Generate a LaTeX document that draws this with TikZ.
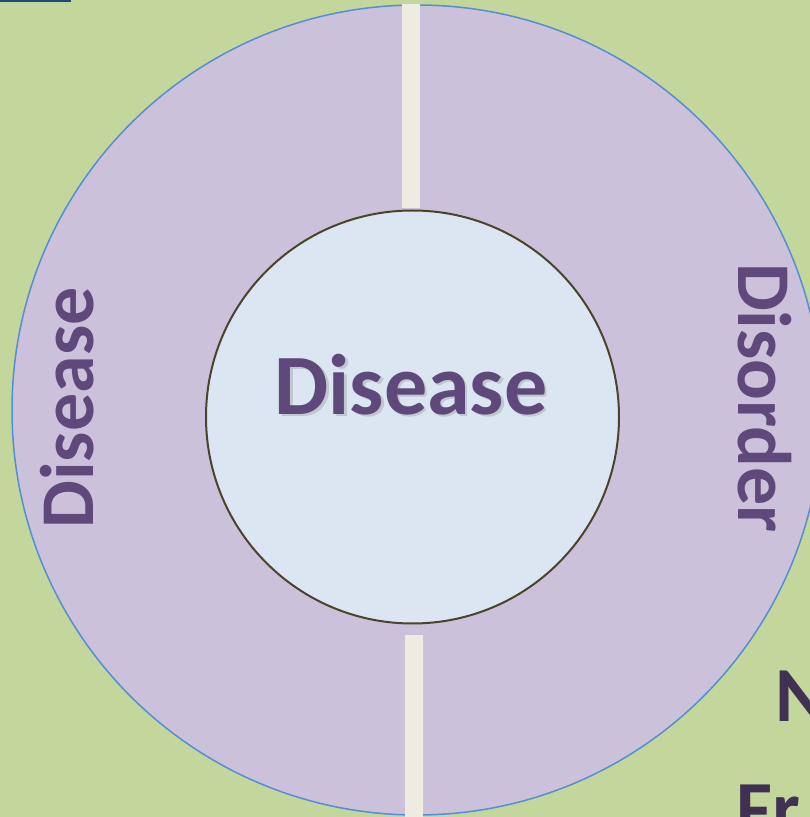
\documentclass[tikz,border=0pt]{standalone}
\usepackage{fontspec}
\setmainfont{Carlito}
\usetikzlibrary{positioning}
\definecolor{bggreen}{HTML}{C3D69B}
\definecolor{ringlilac}{HTML}{CCC1DA}
\definecolor{ringblue}{HTML}{558ED5}
\definecolor{hubblue}{HTML}{DCE6F2}
\definecolor{hubedge}{HTML}{4A452A}
\definecolor{barcream}{HTML}{EEECE1}
\definecolor{wordplum}{HTML}{5F497A}
\definecolor{darkplum}{HTML}{403152}
\definecolor{tabnavy}{HTML}{1F497D}

\begin{document}
\begin{tikzpicture}[x=1pt, y=1pt,
  ring/.style={circle, draw=ringblue, fill=ringlilac, line width=1.5pt, minimum size=810pt, inner sep=0pt},
  hub/.style={circle, draw=hubedge, fill=hubblue, line width=2pt, minimum size=413pt, inner sep=0pt},
  spoke/.style={draw=barcream, line width=18pt},
  word/.style={text=wordplum, font=\bfseries\fontsize{76}{80}\selectfont, inner sep=0pt},
  bigword/.style={word, font=\bfseries\fontsize{86}{90}\selectfont},
  cutword/.style={text=darkplum, font=\bfseries\fontsize{78}{80}\selectfont, inner sep=0pt, anchor=base west}
]

\useasboundingbox (0,0) rectangle (810,817);
\clip (0,0) rectangle (810,817);
\fill[bggreen] (0,0) rectangle (810,817);
\fill[tabnavy] (0,815) rectangle (71,817);

\node[ring] (ring) at (417,407) {};
\node[hub] (hub) at (412.5,400) {};
\coordinate (foot) at (414,0);

\draw[spoke, shorten >=1pt] ([xshift=-1.5pt]hub.north |- ring.north) -- ([xshift=-1.5pt]hub.north);
\draw[spoke, shorten <=11pt] ([xshift=1.5pt]hub.south) -- ([xshift=1.5pt]hub.south |- foot);

\node[bigword, text=black!40, opacity=0.4, anchor=base] (hubshade) at (413.5,400) {Disease};
\node[bigword, anchor=base] (hubword) at (411,402) {Disease};

\node[word, rotate=90, anchor=base] (leftword) at (93,409) {Disease};
\node[word, rotate=-90, anchor=base] (rightword) at (738,419) {Disorder};

\node[cutword] (nword) at (775,95) {N};
\node[cutword] (frword) at (736,-18) {Fr};

\end{tikzpicture}
\end{document}
